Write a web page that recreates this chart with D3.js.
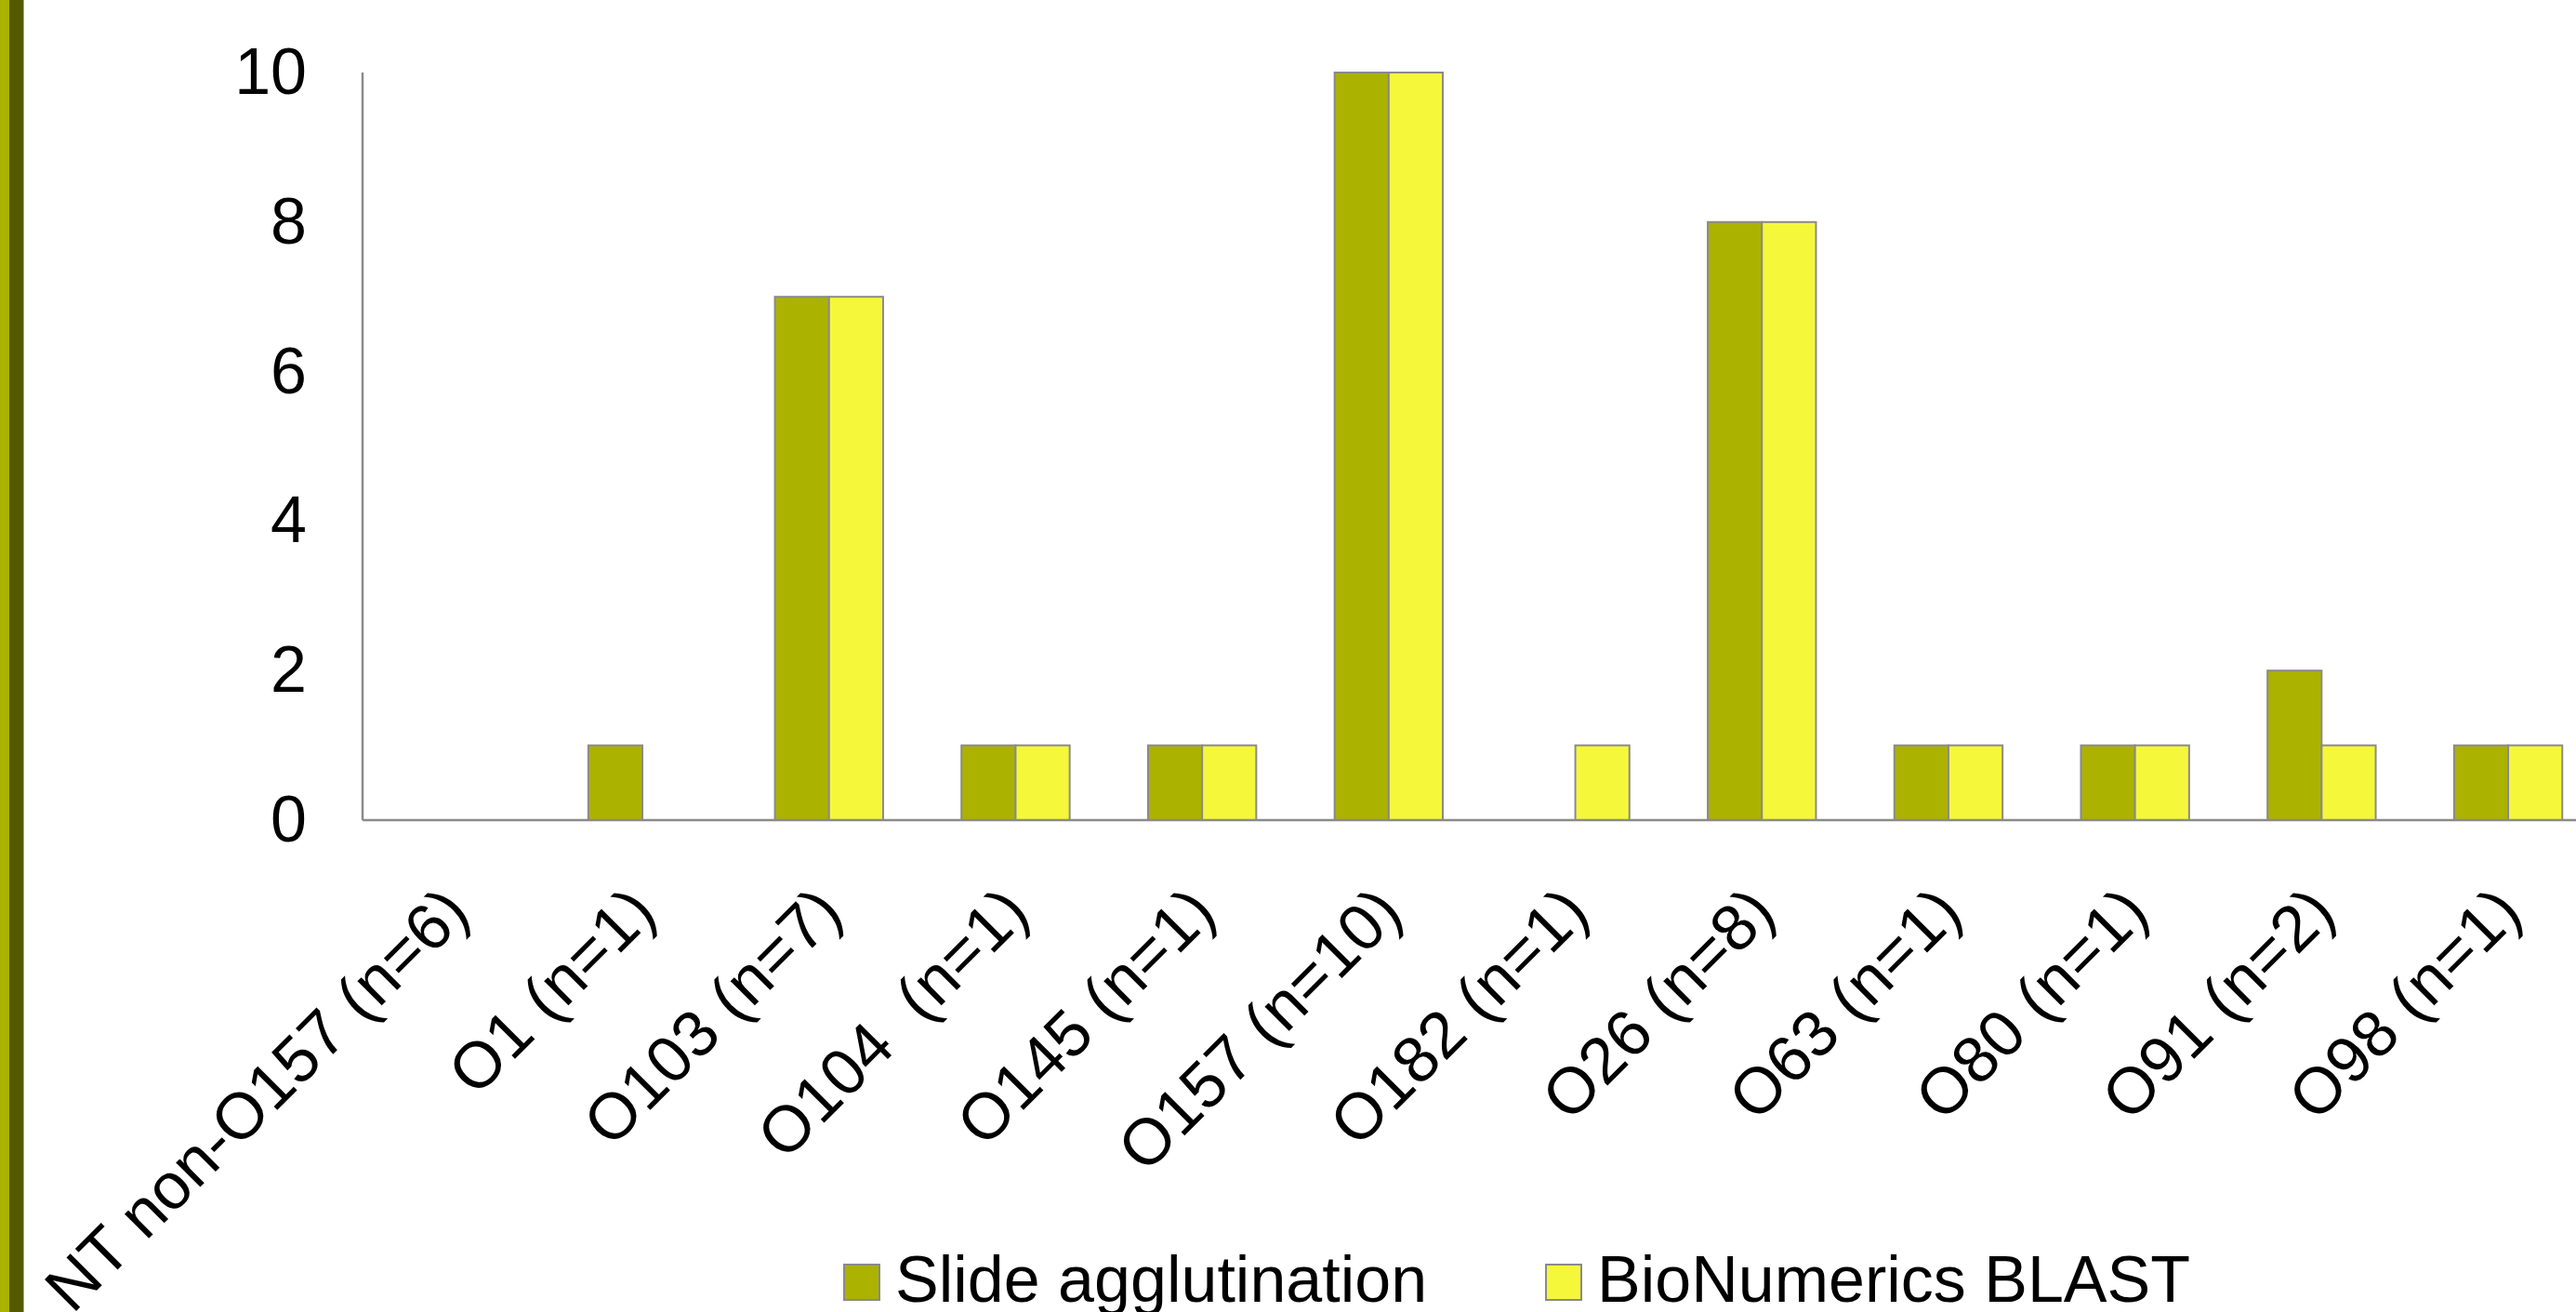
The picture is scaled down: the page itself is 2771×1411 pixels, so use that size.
<!DOCTYPE html>
<html>
<head>
<meta charset="utf-8">
<script src="https://cdn.jsdelivr.net/npm/d3@7"></script>
<style>
  html, body { margin: 0; padding: 0; background: #fff; }
  svg { display: block; }
  text { font-family: "Liberation Sans", Arial, sans-serif; fill: #000; }
</style>
</head>
<body>
<svg id="chart" width="2771" height="1411"></svg>
<script>
const categories = ["NT non-O157 (n=6)", "O1 (n=1)", "O103 (n=7)", "O104  (n=1)", "O145 (n=1)", "O157 (n=10)", "O182 (n=1)", "O26 (n=8)", "O63 (n=1)", "O80 (n=1)", "O91 (n=2)", "O98 (n=1)"];
const seriesNames = ["Slide agglutination", "BioNumerics BLAST"];
const slideAgglutination = [0, 1, 7, 1, 1, 10, 0, 8, 1, 1, 2, 1];
const bioNumericsBlast = [0, 0, 7, 1, 1, 10, 1, 8, 1, 1, 1, 1];
const yTicks = [0, 2, 4, 6, 8, 10];
const colors = ["#acb200", "#f5f83a"];

const svg = d3.select("#chart");
const W = 2771, H = 1411;
const x0 = 390, plotTop = 78, plotBottom = 882;
const step = 200.7;

// left decorative strips
svg.append("rect").attr("x", 0).attr("y", 0).attr("width", 10).attr("height", H).attr("fill", "#aab400");
svg.append("rect").attr("x", 10).attr("y", 0).attr("width", 15.5).attr("height", H).attr("fill", "#555a00");

const x = d3.scaleBand().domain(categories).range([x0, x0 + step * categories.length]).paddingInner(0.42).paddingOuter(0.21);
const xs = d3.scaleBand().domain(seriesNames).range([0, x.bandwidth()]).padding(0);
const y = d3.scaleLinear().domain([0, 10]).range([plotBottom, plotTop]);

const data = categories.map((c, i) => ({ cat: c, vals: [slideAgglutination[i], bioNumericsBlast[i]] }));

const g = svg.append("g");
const groups = g.selectAll("g.grp").data(data).join("g").attr("class", "grp")
  .attr("transform", d => `translate(${x(d.cat)},0)`);
groups.selectAll("rect").data(d => d.vals.map((v, k) => ({ v, k })).filter(e => e.v > 0)).join("rect")
  .attr("x", e => xs(seriesNames[e.k]))
  .attr("y", e => y(e.v))
  .attr("width", xs.bandwidth())
  .attr("height", e => y(0) - y(e.v))
  .attr("fill", e => colors[e.k])
  .attr("stroke", "#8a8a8a")
  .attr("stroke-width", 2);

// axes lines
svg.append("line").attr("x1", x0).attr("x2", W).attr("y1", y(0)).attr("y2", y(0)).attr("stroke", "#8a8a8a").attr("stroke-width", 2.5);
svg.append("line").attr("x1", x0).attr("x2", x0).attr("y1", y(10)).attr("y2", y(0)).attr("stroke", "#8a8a8a").attr("stroke-width", 2.5);

// y tick labels
const yAxis = d3.axisLeft(y).tickValues(yTicks).tickSize(0).tickPadding(60).tickFormat(d3.format("d"));
const ya = svg.append("g").attr("transform", `translate(${x0},0)`).call(yAxis);
ya.select(".domain").remove();
ya.selectAll("text").attr("font-size", 70).attr("font-family", "Liberation Sans, Arial, sans-serif").attr("fill", "#000");

// x category labels
svg.append("g").selectAll("text").data(categories).join("text")
  .attr("transform", d => `translate(${x(d) + x.bandwidth() / 2},${plotBottom + 85}) rotate(-45)`)
  .attr("text-anchor", "end")
  .attr("dy", "0.35em")
  .attr("font-size", 70)
  .style("white-space", "pre")
  .text(d => d);

// legend
const legendX = [908, 1663];
const leg = svg.append("g").selectAll("g").data(seriesNames).join("g")
  .attr("transform", (d, i) => `translate(${legendX[i]},1360)`);
leg.append("rect").attr("width", 38).attr("height", 38).attr("fill", (d, i) => colors[i]).attr("stroke", "#8a8a8a").attr("stroke-width", 2);
leg.append("text").attr("x", 55).attr("y", 40).attr("font-size", 70).text(d => d);
</script>
</body>
</html>
